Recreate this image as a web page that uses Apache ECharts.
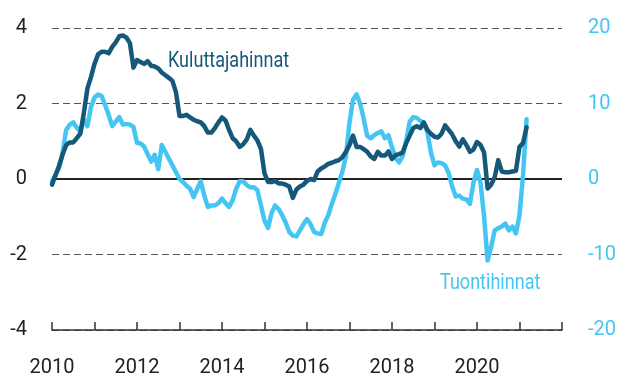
<!DOCTYPE html>
<html>
<head>
<meta charset="utf-8">
<script src="https://cdn.jsdelivr.net/npm/echarts@6/dist/echarts.min.js"></script>
<style>
  html, body { margin: 0; padding: 0; background: #fff; }
  #chart { width: 619px; height: 378px; }
</style>
</head>
<body>
<div id="chart"></div>
<script>
// Monthly series, January 2010 onwards (annual change, %)
const startYear = 2010;

// Consumer prices, left axis
const kuluttajahinnat = [
  -0.15, 0.1, 0.35, 0.65, 0.9, 0.97, 0.97, 1.08, 1.2, 1.75, 2.4, 2.7,
  3.05, 3.3, 3.37, 3.37, 3.33, 3.5, 3.62, 3.78, 3.8, 3.75, 3.6, 2.95,
  3.15, 3.1, 3.05, 3.12, 3.0, 2.98, 2.93, 2.82, 2.75, 2.68, 2.6, 2.3,
  1.67, 1.67, 1.7, 1.63, 1.57, 1.53, 1.5, 1.4, 1.23, 1.23, 1.35, 1.5,
  1.63, 1.55, 1.3, 1.08, 1.0, 0.85, 0.92, 1.05, 1.3, 1.15, 1.02, 0.8,
  0.15, -0.08, -0.08, -0.05, -0.12, -0.12, -0.15, -0.2, -0.5, -0.28, -0.2, -0.15,
  -0.05, 0.0, -0.03, 0.2, 0.28, 0.33, 0.4, 0.43, 0.47, 0.5, 0.58, 0.72,
  0.9, 1.15, 0.85, 0.85, 0.79, 0.72, 0.6, 0.53, 0.72, 0.62, 0.62, 0.73,
  0.53, 0.63, 0.66, 0.7, 0.95, 1.15, 1.35, 1.4, 1.35, 1.5, 1.3, 1.2,
  1.12, 1.1, 1.2, 1.42, 1.3, 1.18, 1.0, 0.86, 1.05, 0.9, 0.72, 0.78,
  0.98, 0.9, 0.7, -0.25, -0.15, 0.05, 0.5, 0.2, 0.18, 0.18, 0.2, 0.22,
  0.85, 0.95, 1.37
];

// Import prices, right axis
const tuontihinnat = [
  -0.3, 0.6, 1.5, 3.5, 6.5, 7.2, 7.5, 6.8, 6.3, 7.9, 7.0, 9.5,
  10.8, 11.2, 11.0, 9.8, 8.5, 7.0, 7.6, 8.2, 7.2, 7.3, 7.2, 6.9,
  4.8, 4.7, 4.3, 3.3, 2.3, 3.2, 1.3, 4.5, 3.6, 2.7, 1.8, 0.9,
  0.0, -0.4, -0.9, -1.3, -2.4, -1.3, -0.3, -2.2, -3.7, -3.5, -3.5, -3.2,
  -2.6, -3.2, -3.7, -2.8, -1.3, -0.3, -0.3, -0.8, -1.1, -1.1, -1.5, -3.5,
  -5.5, -6.5, -4.5, -3.5, -4.0, -4.8, -5.8, -7.0, -7.5, -7.6, -6.8, -6.0,
  -5.3, -6.0, -7.0, -7.2, -7.3, -5.8, -4.8, -3.3, -2.0, -0.5, 1.0, 3.0,
  7.5, 10.5, 11.2, 10.0, 8.0, 5.7, 5.4, 5.8, 6.1, 6.3, 5.4, 5.8,
  4.2, 2.8, 2.2, 3.0, 5.0, 7.6, 8.2, 8.1, 7.7, 7.4, 6.2, 3.5,
  1.8, 2.2, 2.1, 1.8, 0.8, -1.0, -2.3, -2.2, -2.6, -2.7, -3.3, -0.5,
  1.2, -0.5, -5.0, -10.8, -9.0, -6.8, -6.5, -6.3, -5.9, -6.8, -6.3, -7.2,
  -4.8, 0.5, 7.9
];

const leftTicks = [-4, -2, 0, 2, 4];
const rightTicks = [-20, -10, 0, 10, 20];
const yearLabels = [2010, 2012, 2014, 2016, 2018, 2020];

const darkBlue = '#15587a';
const lightBlue = '#45c6f2';
const font = "Roboto, 'Noto Sans', sans-serif";

const toPoints = vals => vals.map((v, i) => [startYear + i / 12, v]);

const chart = echarts.init(document.getElementById('chart'), null, { renderer: 'canvas' });

chart.setOption({
  animation: false,
  backgroundColor: '#fff',
  grid: { left: 52, right: 55, top: 28, bottom: 46 },
  xAxis: {
    type: 'value',
    min: 2010,
    max: 2022,
    interval: 1,
    axisLine: { show: true, onZero: false, lineStyle: { color: '#333', width: 1.5 } },
    axisTick: { show: true, inside: true, length: 8, lineStyle: { color: '#333', width: 1.5 } },
    splitLine: { show: false },
    axisLabel: {
      margin: 28,
      fontFamily: font,
      fontSize: 20,
      color: '#222',
      formatter: v => (yearLabels.includes(v) ? String(v) : '')
    }
  },
  yAxis: [
    {
      type: 'value',
      min: leftTicks[0],
      max: leftTicks[leftTicks.length - 1],
      interval: 2,
      axisLine: { show: false },
      axisTick: { show: false },
      axisLabel: {
        margin: 25,
        fontFamily: font,
        fontSize: 20,
        color: '#222',
        formatter: v => (leftTicks.includes(v) ? String(v) : '')
      },
      splitLine: {
        show: true,
        lineStyle: { color: '#555', width: 1, type: [7, 4] }
      }
    },
    {
      type: 'value',
      min: rightTicks[0],
      max: rightTicks[rightTicks.length - 1],
      interval: 10,
      axisLine: { show: false },
      axisTick: { show: false },
      splitLine: { show: false },
      axisLabel: {
        margin: 26,
        fontFamily: font,
        fontSize: 20,
        color: lightBlue,
        formatter: v => (rightTicks.includes(v) ? String(v) : '')
      }
    }
  ],
  series: [
    {
      name: 'Tuontihinnat',
      type: 'line',
      yAxisIndex: 1,
      data: toPoints(tuontihinnat),
      showSymbol: false,
      lineStyle: { color: lightBlue, width: 4.5, join: 'round', cap: 'round' },
      z: 3
    },
    {
      name: 'Kuluttajahinnat',
      type: 'line',
      yAxisIndex: 0,
      data: toPoints(kuluttajahinnat),
      showSymbol: false,
      lineStyle: { color: darkBlue, width: 4.5, join: 'round', cap: 'round' },
      z: 4,
      markLine: {
        silent: true,
        symbol: 'none',
        label: { show: false },
        lineStyle: { color: '#222', width: 2, type: 'solid' },
        data: [{ yAxis: 0 }],
        z: 1
      }
    }
  ],
  graphic: [
    {
      type: 'text',
      x: 168,
      y: 50,
      scaleX: 0.82,
      style: { text: 'Kuluttajahinnat', fontFamily: font, fontSize: 22, fill: darkBlue }
    },
    {
      type: 'text',
      x: 440,
      y: 272,
      scaleX: 0.82,
      style: { text: 'Tuontihinnat', fontFamily: font, fontSize: 22, fill: lightBlue }
    }
  ]
});
</script>
</body>
</html>
